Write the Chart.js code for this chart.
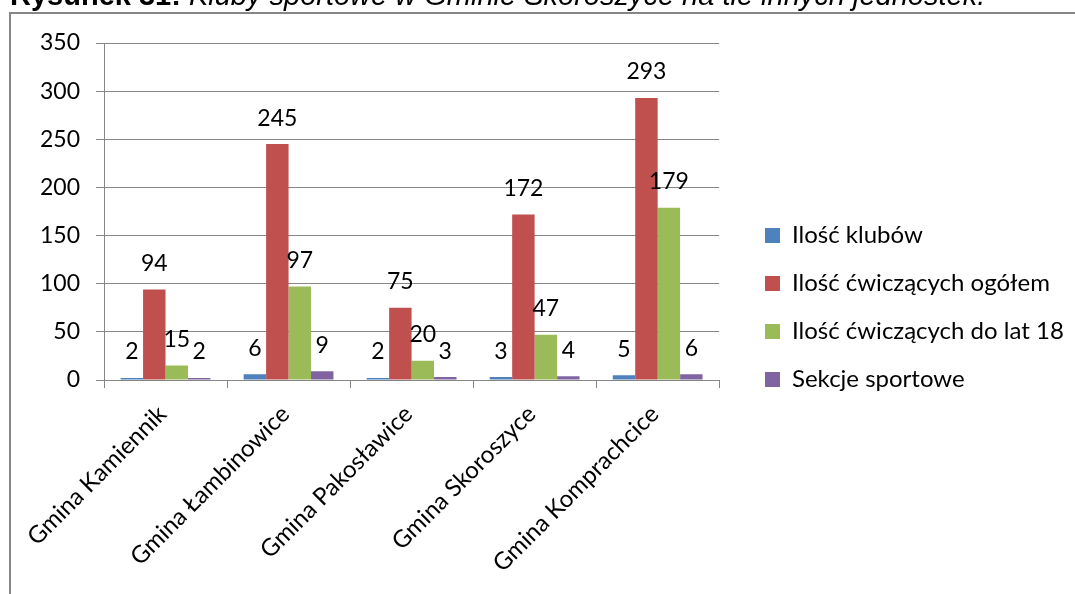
<!DOCTYPE html>
<html>
<head>
<meta charset="utf-8">
<script src="https://cdn.jsdelivr.net/npm/chart.js@4"></script>
<style>
	body { margin: 0; background: #fff; }
	#page { position: relative; width: 1075px; height: 594px; overflow: hidden; }
	#title { position: absolute; left: 10px; top: -21px; font-family: "Liberation Sans", Arial, sans-serif; font-size: 29px; white-space: nowrap; color: #000; }
	#title b { font-weight: bold; }
	#title i { font-style: italic; }
	#lineTop { position: absolute; left: 10px; right: 0; top: 12px; height: 2px; background: #868686; }
	#lineLeft { position: absolute; left: 9px; top: 12px; width: 2px; bottom: 0; background: #868686; }
	#wrap { position: absolute; left: 0; top: 0; width: 1075px; height: 594px; }
</style>
</head>
<body>
<div id="page">
	<div id="wrap"><canvas id="myChart"></canvas></div>
	<div id="title"><b>Rysunek 31:</b><i> Kluby sportowe w Gminie Skoroszyce na tle innych jednostek.</i></div>
	<div id="lineTop"></div>
	<div id="lineLeft"></div>
</div>
<script>
	let gminy = ['Gmina Kamiennik', 'Gmina Łambinowice', 'Gmina Pakosławice', 'Gmina Skoroszyce', 'Gmina Komprachcice']
	let kluby = [2, 6, 2, 3, 5]
	let cwiczacy = [94, 245, 75, 172, 293]
	let cwiczacy18 = [15, 97, 20, 47, 179]
	let sekcje = [2, 9, 3, 4, 6]
	let yTicks = [0, 50, 100, 150, 200, 250, 300, 350]

	let font = 'Lato'
	let gray = '#868686'

	// etykiety wartosci nad slupkami
	let valueLabels = {
		id: 'valueLabels',
		afterDatasetsDraw: chart => {
			let ctx = chart.ctx
			ctx.save()
			ctx.font = '23px ' + font
			ctx.fillStyle = '#000'
			ctx.textAlign = 'center'
			ctx.textBaseline = 'middle'
			chart.data.datasets.forEach((ds, i) => {
				chart.getDatasetMeta(i).data.forEach((bar, j) => {
					ctx.fillText(ds.data[j], bar.x, bar.y - 26)
				})
			})
			ctx.restore()
		}
	}

	// legenda dalej od wykresu i troche wyzej
	let legendShift = {
		id: 'legendShift',
		afterLayout: chart => {
			let lg = chart.legend
			let dx = 741 - lg.left
			lg.left += dx
			lg.right += dx
			lg.top -= 11
			lg.bottom -= 11
		}
	}

	new Chart(document.getElementById('myChart'), {
		type: 'bar',
		data: {
			labels: gminy,
			datasets: [
				{ label: 'Ilość klubów', data: kluby, backgroundColor: '#4F81BD' },
				{ label: 'Ilość ćwiczących ogółem', data: cwiczacy, backgroundColor: '#C0504D' },
				{ label: 'Ilość ćwiczących do lat 18', data: cwiczacy18, backgroundColor: '#9BBB59' },
				{ label: 'Sekcje sportowe', data: sekcje, backgroundColor: '#8064A2' }
			]
		},
		options: {
			responsive: true,
			maintainAspectRatio: false,
			animation: false,
			layout: { padding: { top: 43, left: 0, right: 23, bottom: 0 } },
			datasets: { bar: { barPercentage: 1, categoryPercentage: 0.73 } },
			scales: {
				x: {
					afterFit: axis => { axis.height = 214 },
					grid: { display: true, drawOnChartArea: false, color: gray, tickLength: 8, offset: true },
					border: { color: gray, width: 1 },
					ticks: { color: '#000', font: { family: font, size: 24 }, minRotation: 45, maxRotation: 45, padding: 12, labelOffset: -3 }
				},
				y: {
					min: 0,
					max: 350,
					afterFit: axis => { axis.width = 104 },
					afterBuildTicks: axis => { axis.ticks = yTicks.map(v => ({ value: v })) },
					grid: { color: gray, tickLength: 8 },
					border: { color: gray, width: 1 },
					ticks: { color: '#000', font: { family: font, size: 23 }, padding: 16 }
				}
			},
			plugins: {
				legend: {
					position: 'right',
					maxWidth: 400,
					labels: { color: '#000', font: { family: font, size: 24 }, boxWidth: 15, boxHeight: 15, padding: 24 }
				},
				tooltip: { enabled: false }
			}
		},
		plugins: [valueLabels, legendShift]
	})
</script>
</body>
</html>
